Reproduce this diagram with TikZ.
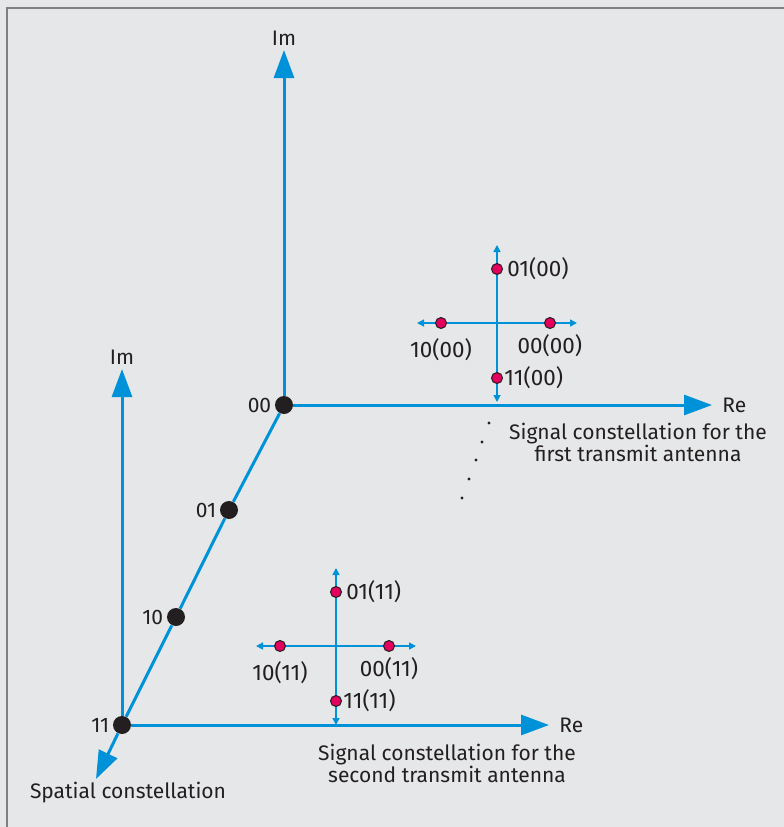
\documentclass[tikz,border=0pt]{standalone}
\usepackage{fontspec}
\setmainfont{Fira Sans}
\usepackage{xcolor}
\usetikzlibrary{arrows.meta, positioning}
\definecolor{axisblue}{RGB}{0,146,216}
\definecolor{dotred}{RGB}{228,0,95}
\definecolor{framegray}{RGB}{128,128,128}
\definecolor{bggray}{RGB}{230,231,232}
\definecolor{inkgray}{RGB}{35,31,32}

\begin{document}
\begin{tikzpicture}[x=0.5pt,y=-0.5pt]
    \tikzstyle{bigaxis}=[color=axisblue,line width=1.5pt,-{Triangle[length=14pt,width=10pt]}]
    \tikzstyle{smallaxis}=[color=axisblue,line width=0.75pt,{Triangle[length=3.5pt,width=3.5pt]}-{Triangle[length=3.5pt,width=3.5pt]}]
    \tikzstyle{bigdot}=[shape=circle,fill=inkgray,inner sep=0pt,minimum size=9pt]
    \tikzstyle{symdot}=[shape=circle,fill=dotred,draw=inkgray,line width=0.5pt,inner sep=0pt,minimum size=5.5pt]
    \tikzstyle{lbl}=[text=inkgray,inner sep=0pt,font=\fontsize{10.5}{11}\selectfont]
    \tikzstyle{symlbl}=[lbl,font=\fontsize{11.2}{12}\selectfont]

    % background and frame
    \useasboundingbox (0,0) rectangle (784,827);
    \fill[bggray] (0,0) rectangle (784,827);
    \draw[framegray,line width=1pt] (7,827) -- (7,8) -- (784,8);

    % spatial constellation
    \node[bigdot] (s00) at (284,405) {};
    \node[bigdot] (s01) at (229,510) {};
    \node[bigdot] (s10) at (176,617) {};
    \node[bigdot] (s11) at (122,725) {};
    \coordinate (im1) at (284,50);
    \coordinate (re1) at (712,405);
    \coordinate (im2) at (122,369);
    \coordinate (re2) at (549,725);
    \coordinate (sp) at (96,779);

    \path[bigaxis]
    (s00) edge (im1)
    (s00) edge (re1)
    (s11) edge (im2)
    (s11) edge (re2)
    (s11) edge (sp);
    \draw[axisblue,line width=1.5pt] (s00) -- (s01) -- (s10) -- (s11);

    \node[lbl,left=1.5pt of s00] {00};
    \node[lbl,left=1.5pt of s01] {01};
    \node[lbl,left=1.5pt of s10] {10};
    \node[lbl,left=1.5pt of s11] {11};
    \node[lbl,above=2pt of im1] {Im};
    \node[lbl,above=2pt of im2] {Im};
    \node[lbl,right=5pt of re1] {Re};
    \node[lbl,right=5pt of re2] {Re};
    \node[lbl] (spl) at (128,793) {Spatial constellation};

    % signal constellations
    \foreach \cx/\cy/\tag in {497/323/00, 336/646/11} {
      \coordinate (t\tag) at (\cx,\cy-78);
      \coordinate (b\tag) at (\cx,\cy+79);
      \coordinate (l\tag) at (\cx-80,\cy);
      \coordinate (r\tag) at (\cx+80,\cy);
      \draw[smallaxis] (b\tag) -- (t\tag);
      \draw[smallaxis] (l\tag) -- (r\tag);
      \node[symdot] (p01\tag) at (\cx,\cy-54) {};
      \node[symdot] (p11\tag) at (\cx,\cy+55) {};
      \node[symdot] (p10\tag) at (\cx-56,\cy) {};
      \node[symdot] (p00\tag) at (\cx+53,\cy) {};
      \node[symlbl,right=2pt of p01\tag] {01(\tag)};
      \node[symlbl,right=0.5pt of p11\tag] {11(\tag)};
      \node[symlbl,below=4.5pt of p10\tag] {10(\tag)};
      \node[symlbl,below=2.5pt of p00\tag] {00(\tag)};
    }

    \node[lbl,align=center] (cap1) at (638,442) {Signal constellation for the\\first transmit antenna};
    \node[lbl,align=center] (cap2) at (447,763) {Signal constellation for the\\second transmit antenna};

    % ellipsis
    \foreach \ex/\ey in {489/423, 482/442, 476/460, 469/479, 462/498}
      \fill[inkgray] (\ex,\ey) circle (1.6);
\end{tikzpicture}
\end{document}
